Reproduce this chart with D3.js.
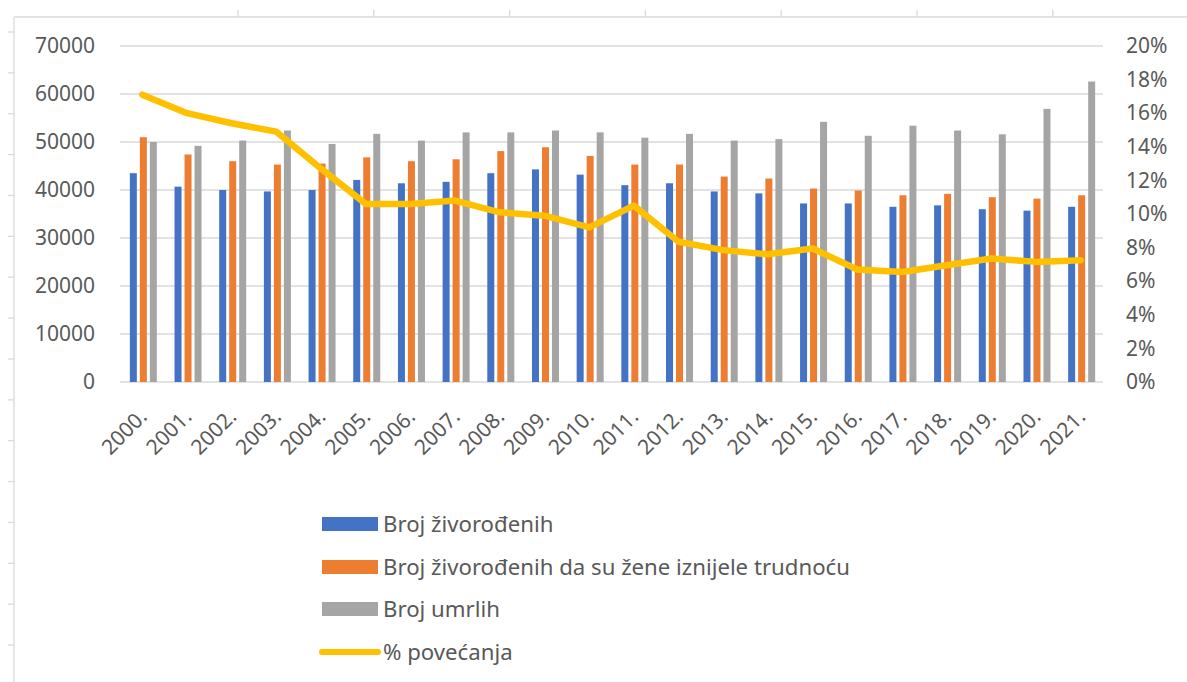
<!DOCTYPE html>
<html>
<head>
<meta charset="utf-8">
<script src="https://cdn.jsdelivr.net/npm/d3@7"></script>
<style>
  body { margin: 0; background: #fff; }
  text { font-family: "Noto Sans", "Open Sans", sans-serif; fill: #595959; }
</style>
</head>
<body>
<div id="chart"></div>
<script>
// data
var years = ["2000.", "2001.", "2002.", "2003.", "2004.", "2005.", "2006.", "2007.", "2008.", "2009.", "2010.",
             "2011.", "2012.", "2013.", "2014.", "2015.", "2016.", "2017.", "2018.", "2019.", "2020.", "2021."];
var zivorodeni = [43500, 40700, 40000, 39700, 40000, 42100, 41400, 41700, 43500, 44300, 43200,
                  41000, 41400, 39700, 39300, 37200, 37200, 36500, 36800, 36000, 35700, 36500];
var zivorodeniTrud = [51000, 47400, 46000, 45300, 45500, 46800, 46000, 46400, 48100, 48900, 47100,
                      45300, 45300, 42800, 42400, 40300, 39900, 38900, 39200, 38500, 38200, 38900];
var umrli = [50000, 49200, 50300, 52400, 49600, 51700, 50300, 52000, 52000, 52400, 52000,
             50900, 51700, 50300, 50600, 54200, 51300, 53400, 52400, 51600, 56900, 62600];
var povecanje = [17.1, 16.0, 15.4, 14.9, 12.7, 10.6, 10.6, 10.8, 10.1, 9.9, 9.2,
                 10.5, 8.35, 7.85, 7.6, 7.95, 6.7, 6.55, 6.95, 7.35, 7.15, 7.25];
var leftTicks = [0, 10000, 20000, 30000, 40000, 50000, 60000, 70000];
var rightTicks = [0, 2, 4, 6, 8, 10, 12, 14, 16, 18, 20];
var seriesNames = ["Broj živorođenih", "Broj živorođenih da su žene iznijele trudnoću", "Broj umrlih", "% povećanja"];
var colors = ["#4472C4", "#ED7D31", "#A5A5A5", "#FFC000"];

var svgWidth = 1187, svgHeight = 682;
var svg = d3.select("#chart").append("svg")
    .attr("width", svgWidth)
    .attr("height", svgHeight);

// spreadsheet cell borders behind the chart
var sheet = svg.append("g").attr("stroke", "#dadada").attr("stroke-width", 1.3);
sheet.append("line").attr("x1", 14).attr("x2", svgWidth).attr("y1", 17).attr("y2", 17);
sheet.append("line").attr("x1", 14).attr("x2", 14).attr("y1", 17).attr("y2", svgHeight);
d3.range(7).forEach(function(i) {
  var x = 238 + i * 135.8;
  sheet.append("line").attr("x1", x).attr("x2", x).attr("y1", 10).attr("y2", 17);
});
d3.range(16).forEach(function(i) {
  var y = 32 + i * 40.87;
  sheet.append("line").attr("x1", 8).attr("x2", 14).attr("y1", y).attr("y2", y);
});

// scales
var x = d3.scaleBand().domain(years).range([120, 1103]);
var y = d3.scaleLinear().domain([0, 70000]).range([382, 46]);
var y2 = d3.scaleLinear().domain([0, 20]).range([382, 46]);

// gridlines
svg.append("g")
    .selectAll("line")
    .data(leftTicks)
    .enter()
    .append("line")
    .attr("x1", 120).attr("x2", 1103)
    .attr("y1", d => y(d)).attr("y2", d => y(d))
    .attr("stroke", "#d9d9d9")
    .attr("stroke-width", 1.3);

// left axis
var leftAxis = d3.axisLeft(y).tickValues(leftTicks).tickSize(0).tickPadding(0).tickFormat(d3.format("d"));
svg.append("g")
    .attr("transform", "translate(95,0)")
    .call(leftAxis)
    .call(g => g.select(".domain").remove())
    .selectAll("text")
    .attr("font-size", "21px")
    .attr("fill", "#595959");

// right axis
var rightAxis = d3.axisRight(y2).tickValues(rightTicks).tickSize(0).tickPadding(0).tickFormat(d => d + "%");
svg.append("g")
    .attr("transform", "translate(1126,0)")
    .call(rightAxis)
    .call(g => g.select(".domain").remove())
    .selectAll("text")
    .attr("font-size", "21px")
    .attr("fill", "#595959");

// bars
var barW = 7, pitch = 10;
[zivorodeni, zivorodeniTrud, umrli].forEach(function(vals, s) {
  svg.append("g")
      .selectAll("rect")
      .data(vals)
      .enter()
      .append("rect")
      .attr("x", (d, i) => x(years[i]) + x.bandwidth() / 2 + 1 + (s - 1) * pitch - barW / 2)
      .attr("y", d => y(d))
      .attr("width", barW)
      .attr("height", d => y(0) - y(d))
      .attr("fill", colors[s]);
});

// line on the right axis
var line = d3.line()
    .x((d, i) => x(years[i]) + x.bandwidth() / 2)
    .y(d => y2(d));
svg.append("path")
    .datum(povecanje)
    .attr("d", line)
    .attr("fill", "none")
    .attr("stroke", colors[3])
    .attr("stroke-width", 6.5)
    .attr("stroke-linejoin", "round")
    .attr("stroke-linecap", "round");

// x labels, rotated
svg.append("g")
    .selectAll("text")
    .data(years)
    .enter()
    .append("text")
    .attr("transform", d => `translate(${x(d) + x.bandwidth() / 2 + 6}, 418) rotate(-45)`)
    .attr("text-anchor", "end")
    .attr("font-size", "21px")
    .text(d => d);

// legend
var legendY = [524, 567, 609, 652];
var legend = svg.append("g");
seriesNames.forEach(function(name, i) {
  if (i < 3) {
    legend.append("rect")
        .attr("x", 322).attr("y", legendY[i] - 7)
        .attr("width", 56).attr("height", 14)
        .attr("fill", colors[i]);
  } else {
    legend.append("line")
        .attr("x1", 322).attr("x2", 378)
        .attr("y1", legendY[i]).attr("y2", legendY[i])
        .attr("stroke", colors[i])
        .attr("stroke-width", 6)
        .attr("stroke-linecap", "round");
  }
  legend.append("text")
      .attr("x", 383)
      .attr("y", legendY[i])
      .attr("dy", "0.35em")
      .attr("font-size", "22.2px")
      .text(name);
});
</script>
</body>
</html>
